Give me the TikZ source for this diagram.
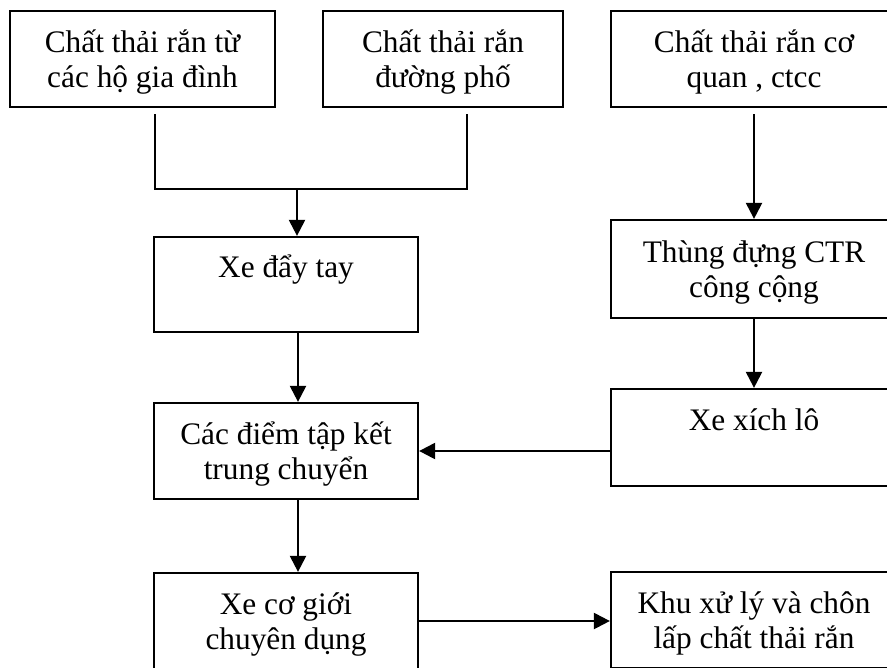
\documentclass[tikz,border=0pt]{standalone}
\usepackage{fontspec}
\setmainfont{Liberation Serif}
\usetikzlibrary{arrows.meta,calc}

\tikzset{
  flowbox/.style={draw=black, line width=1.7pt, inner sep=0pt, align=center,
    text height=50pt, text depth=7pt,
    font=\fontsize{23.5}{26.5}\selectfont},
  boxsize/.style 2 args={minimum width=#1*0.75pt, minimum height=#2*0.75pt},
  flowline/.style={line width=1.7pt},
  flowarrow/.style={flowline, -{Triangle[length=12pt,width=12pt]}}
}

\begin{document}
\begin{tikzpicture}[x=0.75pt, y=-0.75pt]

\fill[white] (0,0) rectangle (887,667);
\useasboundingbox (0,0) rectangle (887,667);
\clip (0,0) rectangle (887,667);

% ================= SOURCES =================
\node[flowbox, boxsize={265}{96}] (house) at (142.5,59)
{Chất thải rắn từ\\các hộ gia đình};

\node[flowbox, boxsize={240}{96}] (street) at (443,59)
{Chất thải rắn\\đường phố};

\node[flowbox, boxsize={286}{96}] (office) at (754,59)
{Chất thải rắn cơ\\quan , ctcc};

% ================= COLLECTION =================
\node[flowbox, boxsize={264}{95}] (cart) at (286,284.5)
{Xe đẩy tay\\\strut};

\node[flowbox, boxsize={286}{98}] (bin) at (754,269)
{Thùng đựng CTR\\công cộng};

\node[flowbox, boxsize={286}{97}] (cyclo) at (754,437.5)
{Xe xích lô\\\strut};

\node[flowbox, boxsize={264}{96}] (transfer) at (286,451)
{Các điểm tập kết\\trung chuyển};

% ================= TRANSPORT AND DISPOSAL =================
\node[flowbox, boxsize={264}{96}] (truck) at (286,621)
{Xe cơ giới\\chuyên dụng};

\node[flowbox, boxsize={286}{96}] (landfill) at (754,620)
{Khu xử lý và chôn\\lấp chất thải rắn};

% ================= CONNECTORS =================
\coordinate (joinL) at (155,189);
\coordinate (joinR) at (467,189);
\coordinate (joinM) at (297,189);
\coordinate (colL) at (298,0);

\draw[flowline, shorten <=4.5pt, shorten >=4.5pt]
  (house.south -| joinL) -- (joinL) -- (joinR) -- (street.south -| joinR);
\draw[flowarrow] (joinM) -- (joinM |- cart.north);

\draw[flowarrow, shorten <=4.5pt] (office.south) -- (bin.north);
\draw[flowarrow] (bin.south) -- (cyclo.north);

\draw[flowarrow] (cart.south -| colL) -- (transfer.north -| colL);
\draw[flowarrow] (cyclo.west |- transfer.east) -- (transfer.east);
\draw[flowarrow] (transfer.south -| colL) -- (truck.north -| colL);
\draw[flowarrow] (truck.east) -- (landfill.west |- truck.east);

\end{tikzpicture}
\end{document}
